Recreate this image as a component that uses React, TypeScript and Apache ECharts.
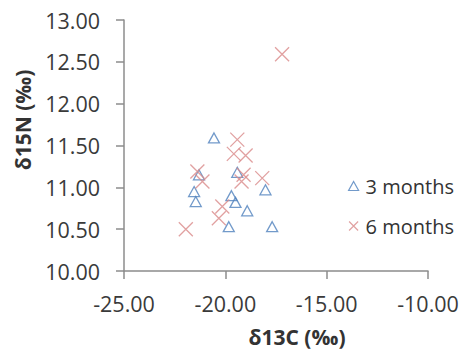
import React, { useEffect, useRef } from "react";
import * as echarts from "echarts";

const seriesNames = ["3 months", "6 months"];
const threeMonths: [number, number][] = [
  [-20.56, 11.59],
  [-21.3, 11.15],
  [-19.41, 11.18],
  [-18.02, 10.97],
  [-21.54, 10.95],
  [-21.46, 10.83],
  [-19.7, 10.9],
  [-19.5, 10.82],
  [-18.92, 10.72],
  [-19.83, 10.53],
  [-17.69, 10.53],
];
const sixMonths: [number, number][] = [
  [-19.41, 11.57],
  [-19.58, 11.4],
  [-19.0, 11.38],
  [-19.1, 11.15],
  [-19.2, 11.07],
  [-18.18, 11.11],
  [-21.38, 11.19],
  [-21.13, 11.07],
  [-20.15, 10.77],
  [-20.32, 10.63],
  [-21.95, 10.5],
  [-17.2, 12.59],
];
const xTitle = "δ13C (‰)";
const yTitle = "δ15N (‰)";

const FONT = "Open Sans";
const CROSS = "path://M0,0L10,10M10,0L0,10";
const BLUE = "#4f81bd";
const RED = "#d98a8a";
const AXIS = "#8c8c8c";

export default function App() {
  const ref = useRef<HTMLDivElement>(null);
  useEffect(() => {
    if (!ref.current) return;
    const chart = echarts.init(ref.current, undefined, { renderer: "svg" });
    const axisLine = { show: true, lineStyle: { color: AXIS, width: 1.5 } };
    const axisTick = { show: true, inside: false, length: 8, lineStyle: { color: AXIS, width: 1.5 } };
    chart.setOption({
      animation: false,
      backgroundColor: "#ffffff",
      textStyle: { fontFamily: FONT },
      grid: { left: 124, right: 34, top: 20, bottom: 80, containLabel: false },
      legend: {
        orient: "vertical",
        left: 343,
        top: 171,
        itemGap: 20,
        itemWidth: 10,
        itemHeight: 9,
        textStyle: { fontFamily: FONT, fontSize: 20, color: "#333", padding: [0, 0, 0, 2] },
        data: [
          { name: seriesNames[0], icon: "triangle", itemStyle: { color: "transparent", borderColor: BLUE, borderWidth: 1.2 } },
          { name: seriesNames[1], icon: CROSS, itemStyle: { color: "transparent", borderColor: RED, borderWidth: 1.2 } },
        ],
      },
      graphic: [
        {
          type: "text",
          x: 297,
          y: 337,
          style: {
            text: xTitle,
            fontFamily: FONT,
            fontSize: 21,
            fontWeight: "bold",
            fill: "#333",
            align: "center",
            verticalAlign: "middle",
          },
        },
        {
          type: "text",
          x: 23,
          y: 120,
          rotation: Math.PI / 2,
          style: {
            text: yTitle,
            fontFamily: FONT,
            fontSize: 21,
            fontWeight: "bold",
            fill: "#333",
            align: "center",
            verticalAlign: "middle",
          },
        },
      ],
      xAxis: {
        type: "value",
        min: -25,
        max: -10,
        interval: 5,
        axisLine,
        axisTick,
        splitLine: { show: false },
        axisLabel: {
          fontFamily: FONT,
          fontSize: 21.5,
          color: "#3a3a3a",
          margin: 21,
          formatter: (v: number) => v.toFixed(2),
        },
      },
      yAxis: {
        type: "value",
        min: 10,
        max: 13,
        interval: 0.5,
        axisLine,
        axisTick,
        splitLine: { show: false },
        axisLabel: {
          fontFamily: FONT,
          fontSize: 21.5,
          color: "#3a3a3a",
          margin: 24,
          formatter: (v: number) => v.toFixed(2),
        },
      },
      series: [
        {
          name: seriesNames[0],
          type: "scatter",
          data: threeMonths,
          symbol: "triangle",
          symbolSize: [11, 10],
          itemStyle: { color: "transparent", borderColor: BLUE, borderWidth: 1.3 },
        },
        {
          name: seriesNames[1],
          type: "scatter",
          data: sixMonths,
          symbol: CROSS,
          symbolSize: 14,
          itemStyle: { color: "transparent", borderColor: RED, borderWidth: 1.3 },
        },
      ],
    });
    return () => chart.dispose();
  }, []);
  return (
    <div
      ref={ref}
      style={{ position: "fixed", left: 0, top: 0, width: 462, height: 351 }}
    />
  );
}
